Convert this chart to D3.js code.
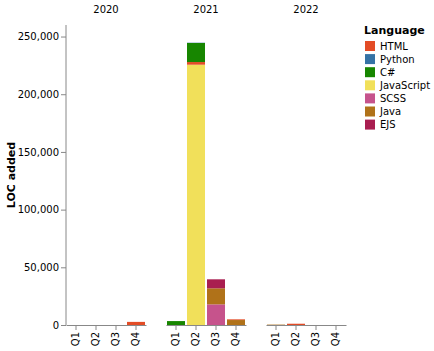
<!DOCTYPE html>
<html>
<head>
<meta charset="utf-8">
<script src="https://cdn.jsdelivr.net/npm/d3@7"></script>
<style>
  body { margin: 0; background: #fff; }
  svg { font-family: "DejaVu Sans", sans-serif; }
</style>
</head>
<body>
<svg id="chart" width="434" height="351"></svg>
<script>
// 데이터
const years = ["2020", "2021", "2022"];
const quarters = ["Q1", "Q2", "Q3", "Q4"];
const languages = ["HTML", "Python", "C#", "JavaScript", "SCSS", "Java", "EJS"];
const langColors = ["#e34c26", "#3572a5", "#178600", "#f1e05a", "#c6538c", "#b07219", "#a91e50"];
// 쌓는 순서 (아래 -> 위)
const stackOrder = ["JavaScript", "SCSS", "Java", "EJS", "HTML", "C#", "Python"];
const yTicks = [0, 50000, 100000, 150000, 200000, 250000];

// [year, quarter, language, loc]
const rows = [
    ["2020", "Q4", "HTML", 2700],
    ["2021", "Q1", "C#", 3400],
    ["2021", "Q2", "JavaScript", 225600],
    ["2021", "Q2", "HTML", 2300],
    ["2021", "Q2", "C#", 16500],
    ["2021", "Q2", "Python", 250],
    ["2021", "Q3", "SCSS", 17900],
    ["2021", "Q3", "Java", 13900],
    ["2021", "Q3", "EJS", 7800],
    ["2021", "Q4", "Java", 4300],
    ["2021", "Q4", "HTML", 600],
    ["2022", "Q1", "Java", 350],
    ["2022", "Q2", "HTML", 1100]
];

const svg = d3.select("#chart");
const plotTop = 25, plotH = 300, panelW = 80, panelGap = 20, left0 = 66;

const y = d3.scaleLinear().domain([0, 260000]).range([plotTop + plotH, plotTop]);
const x = d3.scaleBand().domain(quarters).range([0, panelW]).paddingInner(0.1).paddingOuter(0.05);
const color = d3.scaleOrdinal().domain(languages).range(langColors);

// y 축
const yAxis = svg.append("g")
    .attr("transform", `translate(${left0},0)`)
    .call(d3.axisLeft(y).tickValues(yTicks).tickFormat(d3.format(",")).tickSize(5).tickPadding(2));
yAxis.select(".domain").attr("stroke", "#888").attr("d", `M0,${plotTop}V${plotTop + plotH}`);
yAxis.selectAll(".tick line").attr("stroke", "#888");
yAxis.selectAll(".tick text").attr("font-size", 10).attr("fill", "#000").attr("font-family", "DejaVu Sans, sans-serif");

svg.append("text")
    .attr("transform", `translate(15,${plotTop + plotH / 2}) rotate(-90)`)
    .attr("text-anchor", "middle")
    .attr("font-size", 11).attr("font-weight", "bold")
    .text("LOC added");

// 연도별 패널
years.forEach((yr, i) => {
    const g = svg.append("g").attr("transform", `translate(${left0 + i * (panelW + panelGap)},0)`);

    g.append("text")
        .attr("x", panelW / 2).attr("y", 13)
        .attr("text-anchor", "middle")
        .attr("font-size", 10)
        .text(yr);

    const table = quarters.map(q => {
        const o = { quarter: q };
        stackOrder.forEach(l => o[l] = 0);
        rows.filter(r => r[0] === yr && r[1] === q).forEach(r => o[r[2]] += r[3]);
        return o;
    });
    const series = d3.stack().keys(stackOrder)(table);

    g.selectAll("g.layer")
        .data(series)
        .join("g")
        .attr("class", "layer")
        .attr("fill", d => color(d.key))
        .selectAll("rect")
        .data(d => d.filter(p => p[1] > p[0]))
        .join("rect")
        .attr("x", d => x(d.data.quarter))
        .attr("width", x.bandwidth())
        .attr("y", d => y(d[1]))
        .attr("height", d => y(d[0]) - y(d[1]));

    const xAxis = g.append("g")
        .attr("transform", `translate(0,${plotTop + plotH})`)
        .call(d3.axisBottom(x).tickSize(5).tickSizeOuter(0));
    xAxis.select(".domain").attr("stroke", "#888");
    xAxis.selectAll(".tick line").attr("stroke", "#888");
    xAxis.selectAll(".tick text")
        .attr("font-size", 10).attr("fill", "#000").attr("font-family", "DejaVu Sans, sans-serif")
        .attr("text-anchor", "end")
        .attr("transform", "rotate(-90)")
        .attr("x", -7).attr("y", 0).attr("dy", "0.32em");
});

// 범례
const legend = svg.append("g").attr("transform", "translate(364,0)");
legend.append("text")
    .attr("x", 0).attr("y", 34)
    .attr("font-size", 11).attr("font-weight", "bold")
    .text("Language");
const item = legend.selectAll("g.item")
    .data(languages)
    .join("g")
    .attr("class", "item")
    .attr("transform", (d, i) => `translate(0,${46 + i * 13.1})`);
item.append("rect")
    .attr("x", 1).attr("y", -5).attr("width", 10).attr("height", 10)
    .attr("fill", d => color(d));
item.append("text")
    .attr("x", 16).attr("y", 0).attr("dy", "0.35em")
    .attr("font-size", 10)
    .text(d => d);
</script>
</body>
</html>
